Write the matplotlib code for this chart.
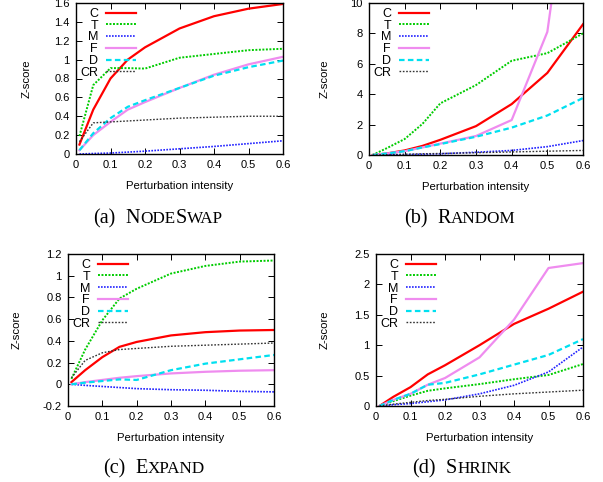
import matplotlib
matplotlib.use('Agg')
import matplotlib.pyplot as plt
from matplotlib.ticker import MultipleLocator, FormatStrFormatter
from matplotlib.font_manager import findfont, FontProperties
from matplotlib.ft2font import FT2Font

# ---------------- data ----------------
intensity = [0.01, 0.05, 0.1, 0.15, 0.2, 0.3, 0.4, 0.5, 0.6]
series_names = ["C", "T", "M", "F", "D", "CR"]

nodeswap_C = [0.10, 0.47, 0.80, 1.00, 1.13, 1.33, 1.46, 1.54, 1.59]
nodeswap_T = [0.19, 0.73, 0.91, 0.91, 0.905, 1.02, 1.06, 1.10, 1.115]
nodeswap_M = [0.0, 0.005, 0.01, 0.02, 0.03, 0.055, 0.08, 0.11, 0.14]
nodeswap_F = [0.04, 0.20, 0.34, 0.47, 0.55, 0.70, 0.84, 0.95, 1.03]
nodeswap_D = [0.04, 0.22, 0.38, 0.50, 0.57, 0.70, 0.83, 0.92, 0.99]
nodeswap_CR = [0.13, 0.33, 0.34, 0.35, 0.36, 0.38, 0.39, 0.40, 0.40]

random_C = [0.0, 0.1, 0.3, 0.6, 1.0, 1.9, 3.35, 5.4, 8.6]
random_T = [0.0, 0.45, 1.05, 2.05, 3.4, 4.6, 6.2, 6.7, 8.0]
random_M = [0.0, 0.01, 0.02, 0.05, 0.08, 0.18, 0.3, 0.55, 0.95]
random_F = [0.0, 0.1, 0.25, 0.5, 0.75, 1.25, 2.3, 8.1, 25.0]
random_D = [0.0, 0.1, 0.25, 0.5, 0.72, 1.2, 1.8, 2.6, 3.75]
random_CR = [0.0, 0.02, 0.05, 0.08, 0.1, 0.15, 0.2, 0.25, 0.3]

expand_C = [0.02, 0.13, 0.25, 0.345, 0.39, 0.45, 0.48, 0.495, 0.5]
expand_T = [0.05, 0.32, 0.59, 0.79, 0.88, 1.02, 1.09, 1.13, 1.14]
expand_M = [0.0, -0.01, -0.02, -0.03, -0.04, -0.05, -0.055, -0.065, -0.07]
expand_F = [0.0, 0.02, 0.04, 0.06, 0.075, 0.10, 0.115, 0.125, 0.13]
expand_D = [0.0, 0.015, 0.03, 0.045, 0.04, 0.13, 0.19, 0.23, 0.27]
expand_CR = [0.06, 0.22, 0.29, 0.32, 0.33, 0.35, 0.36, 0.37, 0.38]

shrink_C = [0.0, 0.15, 0.31, 0.52, 0.67, 1.0, 1.35, 1.6, 1.88]
shrink_T = [0.0, 0.08, 0.17, 0.25, 0.29, 0.36, 0.44, 0.51, 0.69]
shrink_M = [0.0, 0.02, 0.04, 0.07, 0.1, 0.2, 0.34, 0.56, 0.97]
shrink_F = [0.0, 0.1, 0.2, 0.35, 0.46, 0.8, 1.42, 2.27, 2.35]
shrink_D = [0.0, 0.1, 0.2, 0.35, 0.38, 0.52, 0.68, 0.84, 1.1]
shrink_CR = [0.0, 0.03, 0.06, 0.09, 0.11, 0.16, 0.2, 0.23, 0.26]

x_ticks = [0, 0.1, 0.2, 0.3, 0.4, 0.5, 0.6]
xlabel = "Perturbation intensity"
ylabel = "Z-score"

# ---------------- styles ----------------
styles = {
    "C": dict(color="#ff0000", lw=1.6, ls="-"),
    "T": dict(color="#00cc00", lw=1.4, ls=(0, (1, 0.8))),
    "M": dict(color="#2222ff", lw=1.2, ls=(0, (1, 0.8))),
    "F": dict(color="#ef8cef", lw=1.6, ls="-"),
    "D": dict(color="#00e0f0", lw=1.6, ls=(0, (2.5, 1.5))),
    "CR": dict(color="#333333", lw=1.0, ls=(0, (1.2, 1.2))),
}

W, H = 603, 482
fig = plt.figure(figsize=(W / 100, H / 100), dpi=100)
plt.rcParams['font.family'] = ['Liberation Sans', 'DejaVu Sans']


def px_axes(l, t, r, b):
    return fig.add_axes([l / W, 1 - b / H, (r - l) / W, (b - t) / H])


panels = [
    dict(box=(76, 3, 283, 154), data=[nodeswap_C, nodeswap_T, nodeswap_M, nodeswap_F, nodeswap_D, nodeswap_CR],
         ylim=(0, 1.6), ystep=0.2, ylab_x=32),
    dict(box=(369, 3, 583, 155), data=[random_C, random_T, random_M, random_F, random_D, random_CR],
         ylim=(0, 10), ystep=2, ylab_x=330),
    dict(box=(68, 254, 274, 406), data=[expand_C, expand_T, expand_M, expand_F, expand_D, expand_CR],
         ylim=(-0.2, 1.2), ystep=0.2, ylab_x=22),
    dict(box=(376, 254, 583, 406), data=[shrink_C, shrink_T, shrink_M, shrink_F, shrink_D, shrink_CR],
         ylim=(0, 2.5), ystep=0.5, ylab_x=330),
]

for p in panels:
    l, t, r, b = p["box"]
    ax = px_axes(l, t, r, b)
    for name, vals in zip(series_names, p["data"]):
        ax.plot(intensity, vals, label=name, **styles[name])
    ax.set_xlim(0, 0.6)
    ax.set_ylim(*p["ylim"])
    ax.set_xticks(x_ticks)
    ax.yaxis.set_major_locator(MultipleLocator(p["ystep"]))
    ax.xaxis.set_major_formatter(FormatStrFormatter('%g'))
    ax.yaxis.set_major_formatter(FormatStrFormatter('%g'))
    ax.tick_params(direction='in', length=4, width=0.7, top=True, right=True,
                   labelsize=8, pad=4.5, colors='black')
    for s in ax.spines.values():
        s.set_linewidth(1.0)
    ax.set_xlabel(xlabel, fontsize=8.2, labelpad=7.5)
    ax.set_ylabel(ylabel, fontsize=8.2)
    ax.yaxis.set_label_coords((p["ylab_x"] - l) / (r - l), 0.5)
    ax.legend(loc='upper left', bbox_to_anchor=(4 / (r - l), 1 - 5 / (b - t)),
              frameon=False, markerfirst=False, fontsize=9, handlelength=2.45,
              handletextpad=0.6, labelspacing=-0.02, borderpad=0, borderaxespad=0)

# ---------------- captions (small caps) ----------------
serif_path = findfont(FontProperties(family='Liberation Serif'))


def advance(s, size):
    f = FT2Font(serif_path)
    f.set_size(size, 100)
    return sum(f.load_char(ord(c)).linearHoriAdvance / 65536 for c in s)


def caption(cx, base_y, parts, gap=10):
    widths = [advance(s, size) for s, size in parts]
    total = sum(widths) + gap
    x = cx - total / 2
    for i, ((s, size), w) in enumerate(zip(parts, widths)):
        fig.text(x / W, 1 - base_y / H, s, fontsize=size, family='Liberation Serif',
                 ha='left', va='baseline')
        x += w + (gap if i == 0 else 0)


big, small = 14.5, 12.3
caption(159, 223, [("(a)", big), ("N", big), ("ODE", small), ("S", big), ("WAP", small)])
caption(460, 223, [("(b)", big), ("R", big), ("ANDOM", small)])
caption(155, 473, [("(c)", big), ("E", big), ("XPAND", small)])
caption(462, 473, [("(d)", big), ("S", big), ("HRINK", small)])

fig.savefig("out.png", dpi=100)
